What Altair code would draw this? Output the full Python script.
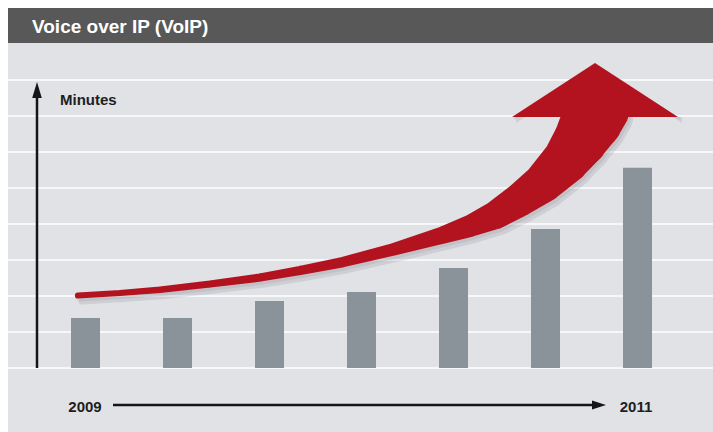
import altair as alt
import pandas as pd

# ---- data ----
bar_index = [0, 1, 2, 3, 4, 5, 6]
bar_minutes = [1.39, 1.39, 1.86, 2.11, 2.78, 3.86, 5.56]
grid_levels = [0, 1, 2, 3, 4, 5, 6, 7, 8]

# growth arrow (shaft centre line, in bar-index / minutes units, width in minutes units)
arrow_x = [-0.082, 0.375, 0.810, 1.353, 1.897, 2.332, 2.799, 3.342, 3.853,
           4.179, 4.457, 4.717, 4.973, 5.223, 5.380, 5.505, 5.560]
arrow_y = [2.014, 2.083, 2.175, 2.333, 2.514, 2.708, 2.944, 3.292, 3.667,
           3.944, 4.250, 4.667, 5.139, 5.778, 6.333, 6.889, 7.222]
arrow_w = [0.17, 0.17, 0.18, 0.20, 0.23, 0.26, 0.29, 0.35, 0.47,
           0.61, 0.78, 0.93, 1.10, 1.31, 1.51, 1.72, 1.81]
head_x = [4.636, 5.538, 6.440]
head_y = [6.972, 8.472, 6.972]
head_base = 6.972

title_text = "Voice over IP (VoIP)"
y_label = "Minutes"
start_label = "2009"
end_label = "2011"

# ---- tables ----
bars = pd.DataFrame({"i": bar_index, "m": bar_minutes})
grid = pd.DataFrame({"g": grid_levels})
trail = pd.DataFrame({"k": list(range(len(arrow_x))), "x": arrow_x, "y": arrow_y, "w": arrow_w})
head = pd.DataFrame({"x": head_x, "y": head_y, "b": [head_base] * len(head_x)})
one = pd.DataFrame({"a": [0]})

RED = "#b3131f"
BG = "#e0e2e6"
XS = alt.Scale(domain=[0, 6], range=[85.5, 637.5], nice=False, zero=False, padding=0)
YS = alt.Scale(domain=[0, 8], range=[368, 80], nice=False, zero=False, padding=0)
SS = alt.Scale(domain=[0, 1], range=[0, 36])

panel = alt.Chart(one).mark_rect(color=BG).encode(
    x=alt.value(8), x2=alt.value(713), y=alt.value(43), y2=alt.value(432))
titlebar = alt.Chart(one).mark_rect(color="#585858").encode(
    x=alt.value(8), x2=alt.value(713), y=alt.value(8), y2=alt.value(43))
title = alt.Chart(pd.DataFrame({"t": [title_text]})).mark_text(
    align="left", baseline="middle", font="Liberation Sans", fontSize=19,
    fontWeight="bold", color="white").encode(
    x=alt.value(32), y=alt.value(26.5), text="t:N")

gridlines = alt.Chart(grid).mark_rule(color="#f6f7f9", strokeWidth=2).encode(
    y=alt.Y("g:Q", scale=YS, axis=None), x=alt.value(8), x2=alt.value(713))

barlayer = alt.Chart(bars).mark_bar(width=29, color="#8b939a").encode(
    x=alt.X("i:Q", scale=XS, axis=None),
    y=alt.Y("m:Q", scale=YS, axis=None),
    y2=alt.datum(0))

# axes arrows
y_line = alt.Chart(one).mark_rule(color="#151515", strokeWidth=2.5).encode(
    x=alt.value(37), y=alt.value(368), y2=alt.value(94))
y_head = alt.Chart(one).mark_point(
    shape="M-0.6,1L0,-1L0.6,1Z", filled=True, opacity=1, color="#151515", size=256).encode(
    x=alt.value(37), y=alt.value(90))
x_line = alt.Chart(one).mark_rule(color="#151515", strokeWidth=2.5).encode(
    x=alt.value(113), x2=alt.value(596), y=alt.value(405))
x_head = alt.Chart(one).mark_point(
    shape="M-1,-0.65L1,0L-1,0.65Z", filled=True, opacity=1, color="#151515", size=196).encode(
    x=alt.value(599), y=alt.value(405))

labels = pd.DataFrame({"t": [y_label]})
ylab = alt.Chart(labels).mark_text(
    align="left", baseline="middle", font="Liberation Sans", fontSize=15,
    fontWeight="bold", color="#1e1e1e").encode(x=alt.value(60), y=alt.value(100), text="t:N")
lab09 = alt.Chart(pd.DataFrame({"t": [start_label]})).mark_text(
    align="center", baseline="middle", font="Liberation Sans", fontSize=15,
    fontWeight="bold", color="#1e1e1e").encode(x=alt.value(85), y=alt.value(407), text="t:N")
lab11 = alt.Chart(pd.DataFrame({"t": [end_label]})).mark_text(
    align="center", baseline="middle", font="Liberation Sans", fontSize=15,
    fontWeight="bold", color="#1e1e1e").encode(x=alt.value(636), y=alt.value(407), text="t:N")

# growth arrow
def shaft(color, opacity, dx=0, dy=0):
    return alt.Chart(trail).mark_trail(color=color, opacity=opacity, xOffset=dx, yOffset=dy).encode(
        x=alt.X("x:Q", scale=XS, axis=None),
        y=alt.Y("y:Q", scale=YS, axis=None),
        size=alt.Size("w:Q", scale=SS, legend=None),
        order=alt.Order("k:Q"))

def tip(color, opacity, dx=0, dy=0):
    return alt.Chart(head).mark_area(color=color, opacity=opacity, xOffset=dx, yOffset=dy).encode(
        x=alt.X("x:Q", scale=XS, axis=None),
        y=alt.Y("y:Q", scale=YS, axis=None),
        y2="b:Q")

chart = alt.layer(
    panel, titlebar, title, gridlines, barlayer,
    y_line, y_head, x_line, x_head, ylab, lab09, lab11,
    shaft("#6f7378", 0.16, 4, 6), tip("#6f7378", 0.16, 4, 6),
    shaft("#6f7378", 0.14, 2, 3), tip("#6f7378", 0.14, 2, 3),
    shaft(RED, 1), tip(RED, 1),
).properties(
    width=713, height=432,
    autosize=alt.AutoSizeParams(type="none"),
    padding=0,
    background="white",
).configure_view(stroke=None)

chart.save("out.html", embed_options={"renderer": "svg", "actions": False})
